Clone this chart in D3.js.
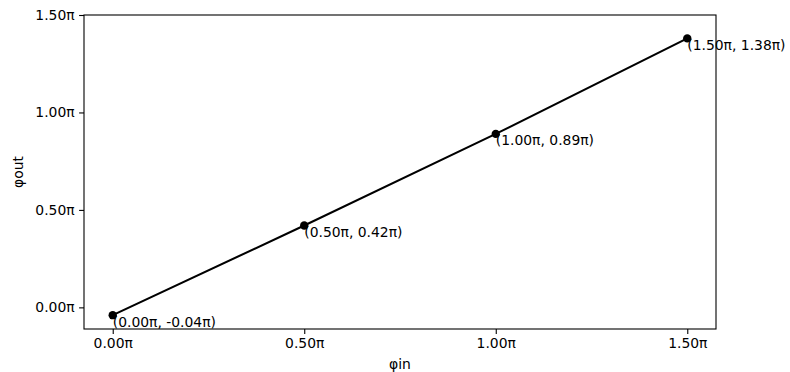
<!DOCTYPE html>
<html>
<head>
<meta charset="utf-8">
<script src="https://d3js.org/d3.v7.min.js"></script>
<style>
  body { margin: 0; background: #fff; }
  text { font-family: "DejaVu Sans", sans-serif; fill: #000; }
</style>
</head>
<body>
<svg id="chart" width="790" height="372"></svg>
<script>
// values in units of pi
var phiIn = [0.00, 0.50, 1.00, 1.50];
var phiOut = [-0.04, 0.42, 0.89, 1.38];
var xTicks = [0.0, 0.5, 1.0, 1.5];
var yTicks = [0.0, 0.5, 1.0, 1.5];

var margin = { top: 15, right: 74, bottom: 43, left: 84 };
var width = 790 - margin.left - margin.right,
    height = 372 - margin.top - margin.bottom;

var svg = d3.select("#chart")
  .append("g")
  .attr("transform", "translate(" + margin.left + "," + margin.top + ")");

var x = d3.scaleLinear().domain([-0.075, 1.575]).range([0, width]);
var y = d3.scaleLinear().domain([-0.111, 1.5]).range([height, 0]);

var fmt = function(d) { return d.toFixed(2) + "π"; };
var fs = "13.9px";

var xAxis = svg.append("g")
  .attr("transform", "translate(0," + height + ")")
  .call(d3.axisBottom(x).tickValues(xTicks).tickFormat(fmt).tickSize(4.9).tickPadding(4.5));
var yAxis = svg.append("g")
  .call(d3.axisLeft(y).tickValues(yTicks).tickFormat(fmt).tickSize(4.9).tickPadding(4.5));

[xAxis, yAxis].forEach(function(a) {
  a.select(".domain").remove();
  a.selectAll(".tick line").attr("stroke", "#000").attr("stroke-width", 1.1);
  a.selectAll(".tick text").style("font-size", fs).attr("fill", "#000");
});

// frame
svg.append("rect")
  .attr("width", width).attr("height", height)
  .attr("fill", "none").attr("stroke", "#000").attr("stroke-width", 1.1);

var pts = phiIn.map(function(d, i) { return { x: d, y: phiOut[i] }; });

svg.append("path")
  .datum(pts)
  .attr("fill", "none")
  .attr("stroke", "#000")
  .attr("stroke-width", 2.08)
  .attr("d", d3.line().x(function(d) { return x(d.x); }).y(function(d) { return y(d.y); }));

svg.selectAll("circle")
  .data(pts)
  .enter()
  .append("circle")
  .attr("cx", function(d) { return x(d.x); })
  .attr("cy", function(d) { return y(d.y); })
  .attr("r", 4.2)
  .attr("fill", "#000");

svg.selectAll(".pt-label")
  .data(pts)
  .enter()
  .append("text")
  .attr("class", "pt-label")
  .attr("x", function(d) { return x(d.x); })
  .attr("y", function(d) { return y(d.y) + 11.5; })
  .style("font-size", fs)
  .text(function(d) { return "(" + fmt(d.x) + ", " + fmt(d.y) + ")"; });

svg.append("text")
  .attr("x", width / 2)
  .attr("y", height + 40)
  .attr("text-anchor", "middle")
  .style("font-size", fs)
  .text("φin");

svg.append("text")
  .attr("transform", "translate(" + (-61) + "," + (height / 2) + ") rotate(-90)")
  .attr("text-anchor", "middle")
  .style("font-size", fs)
  .text("φout");
</script>
</body>
</html>
